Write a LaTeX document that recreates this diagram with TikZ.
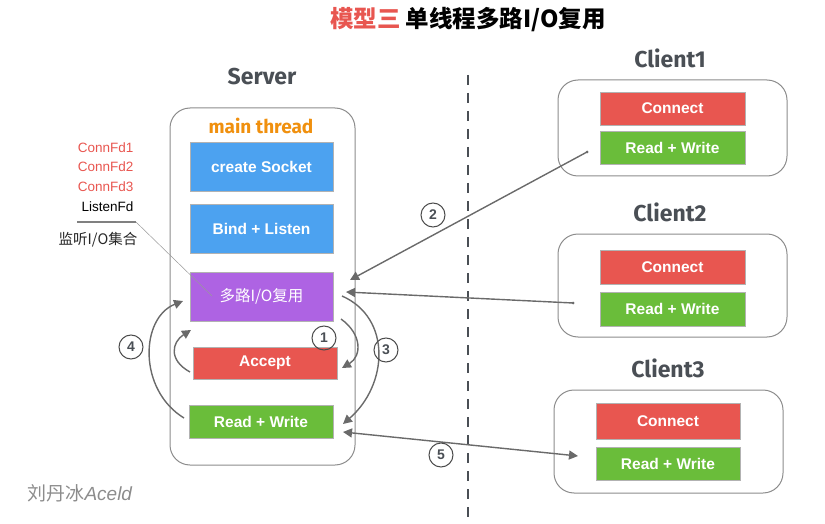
\documentclass[tikz,border=0pt]{standalone}
\usepackage{fontspec}
\setmainfont{Liberation Sans}
\newfontfamily\cjk{Noto Sans CJK SC}
\newfontfamily\hand{Fira Sans}
\usetikzlibrary{arrows.meta}
\definecolor{cblue}{HTML}{4CA2F0}
\definecolor{cpurple}{HTML}{AE63E3}
\definecolor{cred}{HTML}{E85650}
\definecolor{cgreen}{HTML}{6ABD3A}
\definecolor{corange}{HTML}{F0900E}
\definecolor{cdark}{HTML}{4A4F55}
\definecolor{carrow}{HTML}{6A6A6A}
\tikzset{
  block/.style={draw=black!30, line width=0.8pt, text=white, font=\bfseries\fontsize{15.5}{17}\selectfont, inner sep=0pt},
  outer/.style={draw=black!45, line width=1pt, rounded corners=20pt, inner sep=0pt},
  title/.style={text=cdark, font=\hand\bfseries\fontsize{23}{26}\selectfont},
  num/.style={circle, draw=black!70, line width=1pt, minimum size=24pt, inner sep=0pt, text=cdark, font=\bfseries\fontsize{14}{16}\selectfont},
  arr/.style={draw=carrow, line width=1.4pt, -{Triangle[length=9pt,width=9pt]}},
  fdlab/.style={font=\fontsize{13.5}{15}\selectfont, anchor=east}
}
\begin{document}
\begin{tikzpicture}[x=1pt,y=-1pt]
\useasboundingbox (0,0) rectangle (825,524);
% title
\node[font=\cjk\bfseries\fontsize{23.5}{26}\selectfont] (title) at (468,20) {\textcolor{cred}{模型三}~单线程多路I/O复用};
% server
\node[title] (srvlab) at (262,77) {Server};
\node[outer, minimum width=185pt, minimum height=357pt] (srv) at (262.5,286.5) {};
\node[text=corange, font=\hand\bfseries\fontsize{19}{21}\selectfont] (mt) at (261,126) {main thread};
\node[block, fill=cblue, minimum width=143pt, minimum height=49pt] (sock) at (261.5,166.5) {create Socket};
\node[block, fill=cblue, minimum width=143pt, minimum height=49pt] (bind) at (261.5,228.5) {Bind + Listen};
\node[block, fill=cpurple, minimum width=143pt, minimum height=49pt, font=\cjk\fontsize{15.5}{17}\selectfont] (mux) at (261.5,296.5) {多路I/O复用};
\node[block, fill=cred, minimum width=144pt, minimum height=32pt] (acc) at (265,363) {Accept};
\node[block, fill=cgreen, minimum width=144pt, minimum height=33pt] (rw) at (261,421.5) {Read + Write};
% fd labels
\node[fdlab, text=cred] (fd1) at (137,148) {ConnFd1};
\node[fdlab, text=cred] (fd2) at (137,167) {ConnFd2};
\node[fdlab, text=cred] (fd3) at (137,187) {ConnFd3};
\node[fdlab, text=black] (lfd) at (137,207) {ListenFd};
\coordinate (ul) at (77,222);
\coordinate (ur) at (136,222);
\draw[black!50, line width=1.5pt] (ul) -- (ur);
\node[font=\cjk\fontsize{14.5}{16}\selectfont, text=black!85] (set) at (98,240) {监听I/O集合};
\coordinate (pt) at (212,296);
\draw[black!40, line width=0.5pt] (ur) -- (pt);
% divider
\coordinate (dtop) at (468,75);
\coordinate (dbot) at (468,524);
\draw[cdark, line width=1.5pt, dash pattern=on 10pt off 8pt] (dtop) -- (dbot);
% clients
\node[title] (c1lab) at (670,58) {Client1};
\node[outer, minimum width=229pt, minimum height=96pt] (c1) at (672.5,128) {};
\node[block, fill=cred, minimum width=145pt, minimum height=33pt] (c1c) at (672.5,108.5) {Connect};
\node[block, fill=cgreen, minimum width=145pt, minimum height=33pt] (c1rw) at (672.5,147.5) {Read + Write};
\node[title] (c2lab) at (670,212) {Client2};
\node[outer, minimum width=229pt, minimum height=103pt] (c2) at (672.5,285.5) {};
\node[block, fill=cred, minimum width=145pt, minimum height=34pt] (c2c) at (672.5,267) {Connect};
\node[block, fill=cgreen, minimum width=145pt, minimum height=34pt] (c2rw) at (672.5,309) {Read + Write};
\node[title] (c3lab) at (668,368) {Client3};
\node[outer, minimum width=229pt, minimum height=103pt] (c3) at (668.5,441.5) {};
\node[block, fill=cred, minimum width=144pt, minimum height=36pt] (c3c) at (668,421) {Connect};
\node[block, fill=cgreen, minimum width=144pt, minimum height=33pt] (c3rw) at (668,463.5) {Read + Write};
% connectors
\coordinate (a2s) at (587,152);
\coordinate (a2e) at (350,280);
\draw[arr] (a2s) -- (a2e);
\fill[carrow] (a2s) circle (1.5pt);
\coordinate (b2s) at (573,303);
\coordinate (b2e) at (346,292);
\draw[arr] (b2s) -- (b2e);
\fill[carrow] (b2s) circle (1.5pt);
\coordinate (a5s) at (343,432);
\coordinate (a5e) at (578,456);
\draw[arr, {Triangle[length=9pt,width=9pt]}-{Triangle[length=9pt,width=9pt]}] (a5s) -- (a5e);
\coordinate (a1s) at (341,319);
\coordinate (a1e) at (342,368);
\draw[arr] (a1s) .. controls (362,334) and (362,356) .. (a1e);
\coordinate (a3s) at (342,296);
\coordinate (a3e) at (343,424);
\draw[arr] (a3s) .. controls (392,318) and (388,385) .. (a3e);
\coordinate (a4s) at (184,418);
\coordinate (a4e) at (183,301);
\draw[arr] (a4s) .. controls (138,390) and (140,318) .. (a4e);
\coordinate (a0s) at (190,372);
\coordinate (a0e) at (191,330);
\draw[arr] (a0s) .. controls (168,360) and (172,342) .. (a0e);
% numbers
\node[num] (n1) at (324,338) {1};
\node[num] (n2) at (433,215) {2};
\node[num] (n3) at (386,350) {3};
\node[num] (n4) at (131,347) {4};
\node[num] (n5) at (441,455) {5};
% watermark
\node[text=black!45, font=\fontsize{19}{21}\selectfont, anchor=west] (wm) at (24,493) {{\cjk 刘丹冰}\textit{Aceld}};
\end{tikzpicture}
\end{document}
